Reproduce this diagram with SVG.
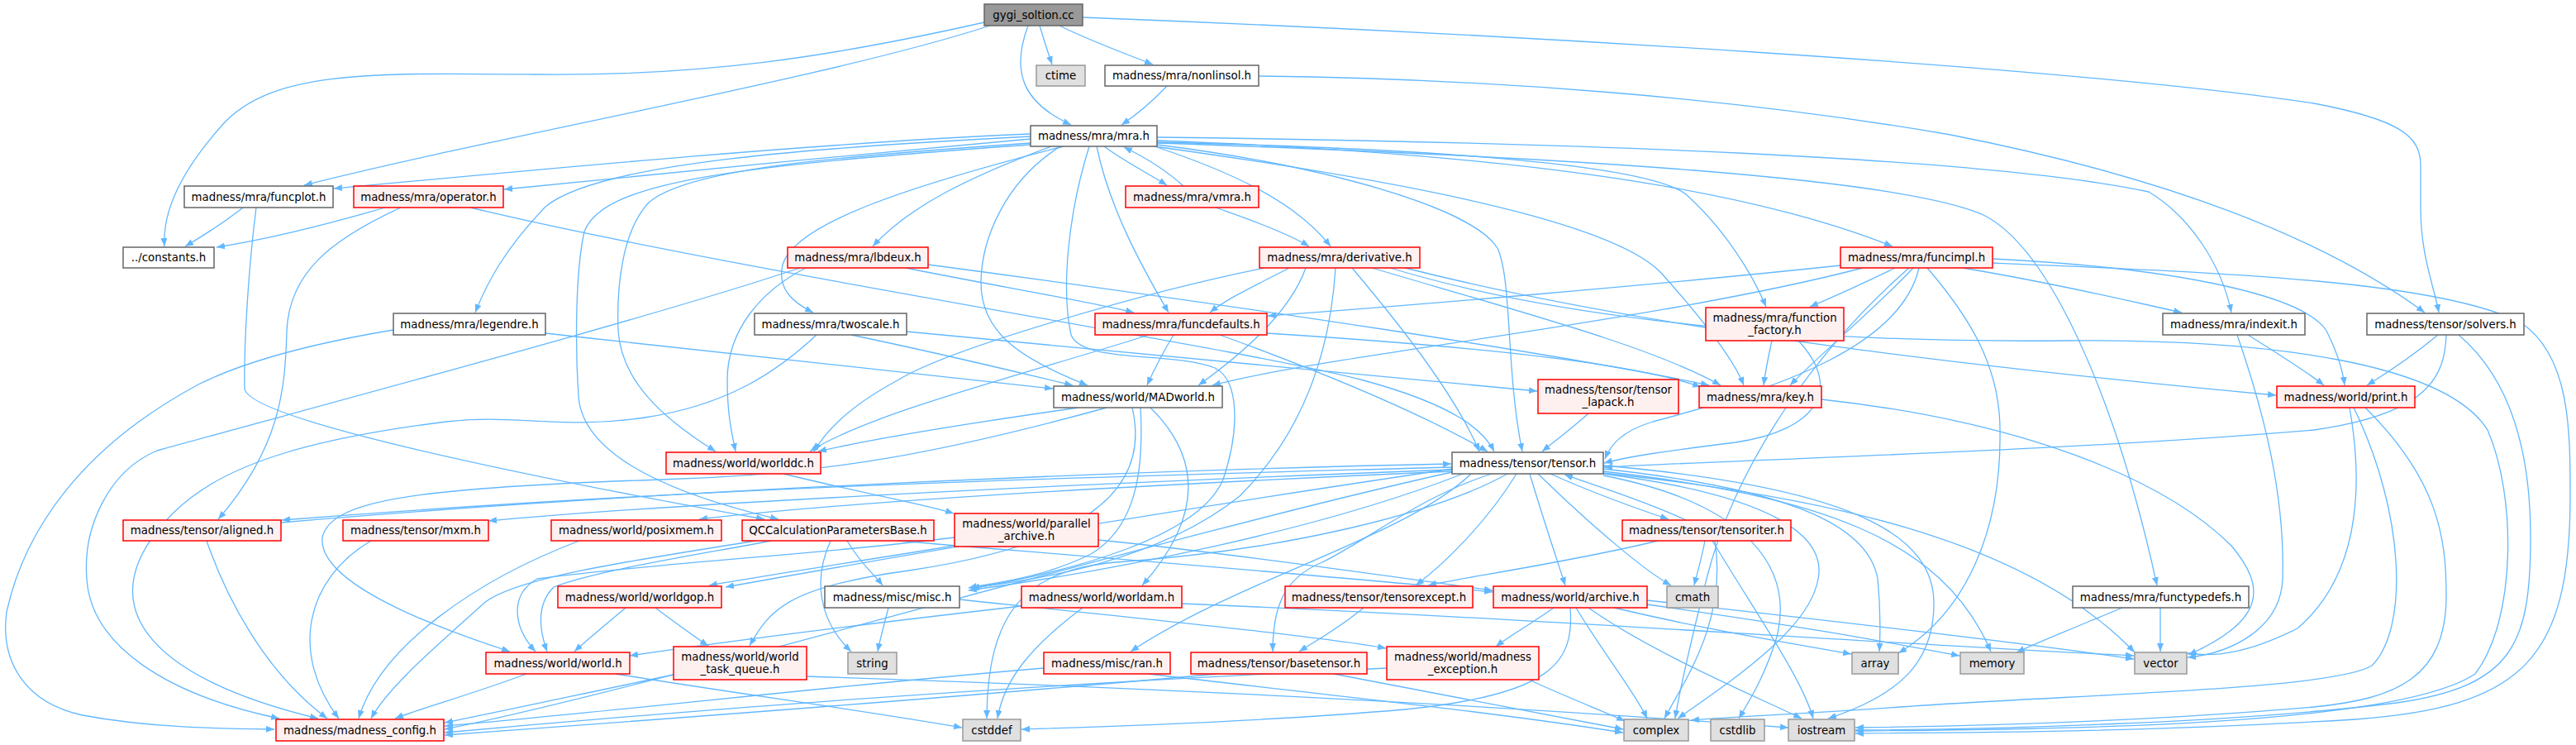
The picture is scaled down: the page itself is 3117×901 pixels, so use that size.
<svg xmlns="http://www.w3.org/2000/svg" width="3117" height="901" viewBox="0 0 3117 901">
<defs>
<marker id="a" markerUnits="userSpaceOnUse" markerWidth="11" markerHeight="9" refX="10" refY="4" orient="auto"><path d="M0,0 L10,4 L0,8 z" fill="#63b8ff"/></marker>
<style>
.e path{fill:none;stroke:#63b8ff;stroke-width:1.3;marker-end:url(#a)}
rect{stroke-width:1.5}
.w rect{fill:#fff;stroke:#666}
.r rect{fill:#fff0f0;stroke:#f00}
.g rect{fill:#e0e0e0;stroke:#999}
.root rect{fill:#999;stroke:#666}
text{font-family:"DejaVu Sans","Liberation Sans",sans-serif;font-size:13.33px;text-anchor:middle;fill:#000}
</style>
</defs>
<rect x="0" y="0" width="3117" height="901" fill="#fff" stroke="none"/>
<g id="edges" class="e">
<path d="M1191,27 C1000,70 850,92 650,90 C450,88 330,85 270,150 C225,200 196,250 199,298"/>
<path d="M1198,31 C1000,95 600,165 368,224"/>
<path d="M1258,31 C1263,48 1268,63 1273,78"/>
<path d="M1282,31 C1320,50 1365,66 1395,78"/>
<path d="M1244,31 C1222,90 1240,125 1296,151"/>
<path d="M1310,21 C1800,40 2500,80 2800,125 C2905,145 2929,165 2929,200 L2929,250 C2929,310 2945,345 2951,378"/>
<path d="M1412,104 C1395,122 1378,137 1357,151"/>
<path d="M1523,92 C1800,95 2100,118 2360,163 C2600,210 2800,280 2934,378"/>
<path d="M1247,162 C1000,172 650,205 404,228"/>
<path d="M1247,168 C1050,185 800,210 610,229"/>
<path d="M1247,165 C950,180 720,200 660,250 C612,300 590,340 575,378"/>
<path d="M1272,177 C1170,215 1100,250 1056,298"/>
<path d="M1287,177 C1100,225 962,270 947,320 C940,350 960,366 984,378"/>
<path d="M1336,177 C1360,195 1390,210 1412,224"/>
<path d="M1432,225 C1410,205 1385,190 1360,178"/>
<path d="M1400,178 C1480,205 1565,240 1610,298"/>
<path d="M1471,251 C1520,268 1560,283 1584,298"/>
<path d="M1327,177 C1342,250 1380,320 1414,378"/>
<path d="M1400,170 C1800,185 2100,222 2290,298"/>
<path d="M1400,172 C1750,180 1995,200 2040,235 C2085,275 2120,330 2137,371"/>
<path d="M1400,166 C1900,172 2400,190 2600,232 C2650,262 2688,320 2700,378"/>
<path d="M1396,177 C1650,212 1945,262 2010,330 C2068,395 2100,440 2110,466"/>
<path d="M1283,177 C1215,220 1188,290 1187,340 C1186,400 1230,432 1316,466"/>
<path d="M1247,173 C1000,190 830,205 785,245 C752,280 746,350 748,400 C752,460 800,505 866,546"/>
<path d="M1400,175 C1600,200 1780,250 1812,300 C1830,340 1822,450 1842,546"/>
<path d="M1247,175 C900,200 730,218 707,280 C696,330 696,420 700,480 C705,540 780,590 942,628"/>
<path d="M1318,177 C1292,260 1284,350 1296,405 C1310,440 1420,425 1470,445 C1500,460 1500,520 1480,580 C1450,650 1300,690 1175,712"/>
<path d="M1400,173 C1900,190 2300,215 2400,260 C2480,300 2560,480 2610,708"/>
<path d="M294,251 C270,270 246,285 224,298"/>
<path d="M310,251 C300,330 295,420 296,470 C300,505 600,570 925,628"/>
<path d="M466,251 C380,276 320,290 262,299"/>
<path d="M485,251 C400,290 350,330 347,400 C345,470 340,540 264,628"/>
<path d="M569,251 C900,330 1500,420 1650,460 C1760,490 1795,520 1808,546"/>
<path d="M660,403 C900,430 1150,455 1274,470"/>
<path d="M476,399 C380,415 300,435 240,465 C100,540 30,640 8,740 C0,800 30,850 100,865 C180,880 260,881 332,882"/>
<path d="M1096,324 C1200,345 1320,365 1372,378"/>
<path d="M1123,320 C1500,370 1900,430 2068,466"/>
<path d="M975,324 C920,352 880,400 880,460 C880,500 885,522 890,546"/>
<path d="M968,324 C800,380 500,460 190,545 C130,570 100,640 105,700 C110,780 200,840 338,869"/>
<path d="M988,405 C940,450 880,490 780,505 C680,520 620,500 540,510 C380,530 270,560 210,620 C100,730 180,820 385,869"/>
<path d="M1030,405 C1150,430 1230,450 1298,466"/>
<path d="M1097,401 C1400,430 1700,460 1860,473"/>
<path d="M1560,324 C1520,345 1486,360 1464,378"/>
<path d="M1530,324 C1400,350 1150,420 1086,460 C1030,490 1000,520 985,546"/>
<path d="M1580,324 C1560,380 1500,430 1450,466"/>
<path d="M1636,324 C1700,400 1762,480 1790,546"/>
<path d="M1660,324 C1850,380 2000,420 2082,466"/>
<path d="M1616,324 C1610,420 1580,520 1500,600 C1400,680 1250,702 1175,711"/>
<path d="M1700,324 C2000,400 2400,445 2754,478"/>
<path d="M1682,324 C1900,390 2200,415 2500,412 C2750,410 2960,440 3010,520 C3045,600 3045,750 2995,815 C2900,878 2500,882 2245,884"/>
<path d="M1420,405 C1405,430 1395,450 1388,466"/>
<path d="M1390,405 C1250,450 1050,500 980,546"/>
<path d="M1476,405 C1600,450 1720,500 1800,546"/>
<path d="M1533,403 C1800,420 1980,440 2058,468"/>
<path d="M2227,321 C2000,345 1700,370 1534,382"/>
<path d="M2293,324 C2260,340 2228,355 2190,371"/>
<path d="M2254,324 C2000,390 1600,430 1467,466"/>
<path d="M2315,324 C2262,380 2200,430 2166,466"/>
<path d="M2322,324 C2300,420 2150,470 2000,510 C1960,522 1948,540 1942,555"/>
<path d="M2411,313 C2650,325 2790,360 2815,400 C2830,430 2835,450 2837,466"/>
<path d="M2375,324 C2500,345 2580,365 2640,378"/>
<path d="M2332,324 C2380,380 2420,440 2420,520 C2422,640 2380,740 2297,790"/>
<path d="M2411,318 C2700,330 2950,340 3050,390 C3110,430 3110,520 3110,600 C3110,800 3050,855 2850,870 C2600,885 2400,886 2245,887"/>
<path d="M2310,324 C2200,420 2100,560 2065,700 C2045,780 2033,830 2027,869"/>
<path d="M2144,412 C2140,430 2136,450 2134,466"/>
<path d="M2176,412 C2230,470 2200,520 2100,535 C2020,545 1970,552 1941,560"/>
<path d="M2720,405 C2760,430 2792,450 2812,466"/>
<path d="M2707,405 C2740,500 2765,600 2762,700 C2760,760 2700,790 2647,795"/>
<path d="M2950,405 C2920,430 2890,450 2864,466"/>
<path d="M2960,405 C2958,455 2940,500 2800,520 C2500,545 2200,552 1941,565"/>
<path d="M2975,405 C3040,460 3062,550 3062,650 C3062,780 3040,830 2900,850 C2700,875 2400,882 2245,883"/>
<path d="M2843,493 C2862,600 2850,700 2780,760 C2720,790 2680,795 2647,790"/>
<path d="M2848,493 C2910,620 2915,760 2870,805 C2820,835 2500,840 2300,855 C2150,865 2080,868 2046,871"/>
<path d="M2862,493 C2950,580 2960,650 2960,720 C2960,820 2900,845 2800,855 C2600,872 2400,878 2245,880"/>
<path d="M2204,483 C2450,510 2620,580 2700,660 C2742,710 2742,750 2648,792"/>
<path d="M1922,500 C1902,518 1882,533 1866,546"/>
<path d="M1305,493 C1150,515 1050,532 990,546"/>
<path d="M1339,493 C1150,545 1000,575 800,580 C500,590 400,605 390,650 C385,700 500,750 617,788"/>
<path d="M1392,493 C1450,550 1460,620 1382,708"/>
<path d="M1380,493 C1385,580 1370,640 1320,670 C1260,700 1200,705 1172,711"/>
<path d="M1370,493 C1395,600 1300,660 1100,690 C950,710 930,740 907,781"/>
<path d="M948,573 C1050,598 1120,610 1154,621"/>
<path d="M1025,654 C1040,680 1058,695 1068,708"/>
<path d="M1005,654 C984,700 990,750 1030,788"/>
<path d="M1086,654 C1400,680 1650,700 1806,716"/>
<path d="M933,654 C850,670 720,690 670,710 C650,730 652,760 662,788"/>
<path d="M915,654 C750,680 620,700 585,730 C530,780 470,830 449,869"/>
<path d="M1329,653 C1500,670 1700,700 1806,714"/>
<path d="M1155,660 C1000,685 900,700 858,708"/>
<path d="M1155,650 C1000,670 800,680 650,700 C615,720 622,760 648,788"/>
<path d="M1757,565 C1400,575 900,585 341,629"/>
<path d="M340,632 C800,592 1400,568 1756,561"/>
<path d="M1757,568 C1300,585 800,610 591,630"/>
<path d="M1757,570 C1300,590 1000,610 846,628"/>
<path d="M1835,573 C1800,630 1750,680 1713,708"/>
<path d="M1851,573 C1868,630 1885,680 1894,708"/>
<path d="M1861,573 C1930,640 1990,690 2022,708"/>
<path d="M1876,573 C1925,595 1980,615 2019,628"/>
<path d="M2040,629 C2000,610 1940,590 1893,574"/>
<path d="M1940,567 C2150,590 2260,630 2272,700 C2276,740 2275,770 2274,788"/>
<path d="M1940,570 C2200,600 2350,650 2409,788"/>
<path d="M1940,572 C2200,600 2450,650 2583,789"/>
<path d="M1940,573 C2150,600 2210,650 2200,700 C2190,760 2100,820 2030,869"/>
<path d="M1940,563 C2250,590 2340,650 2340,730 C2340,800 2300,840 2212,869"/>
<path d="M1940,575 C2120,610 2170,690 2150,770 C2135,820 2115,850 2104,869"/>
<path d="M1805,573 C1720,600 1660,650 1600,680 C1550,700 1540,740 1540,788"/>
<path d="M1780,573 C1700,650 1500,700 1368,788"/>
<path d="M1770,573 C1600,640 1350,690 1172,714"/>
<path d="M1824,573 C1740,620 1560,665 1350,680 C1240,690 1195,740 1194,869"/>
<path d="M1757,571 C1400,650 800,830 538,882"/>
<path d="M1757,567 C1400,620 1100,670 878,710"/>
<path d="M2006,654 C1900,680 1760,700 1728,708"/>
<path d="M2063,654 C2058,680 2053,695 2050,708"/>
<path d="M2075,654 C2090,750 2040,820 2014,869"/>
<path d="M2072,654 C2130,750 2180,820 2194,869"/>
<path d="M1650,735 C1620,760 1592,775 1572,788"/>
<path d="M1161,725 C1400,750 1600,770 1677,784"/>
<path d="M1880,735 C1852,755 1825,770 1810,782"/>
<path d="M1907,735 C1940,790 1980,840 1993,869"/>
<path d="M1922,735 C2000,790 2120,840 2180,869"/>
<path d="M1900,735 C1905,800 1880,840 1700,858 C1500,875 1300,880 1236,882"/>
<path d="M1953,735 C2080,765 2180,780 2240,791"/>
<path d="M1993,731 C2200,760 2300,780 2371,793"/>
<path d="M1993,726 C2300,760 2500,785 2582,797"/>
<path d="M1850,822 C1900,845 1940,860 1966,872"/>
<path d="M1678,808 C1200,830 800,862 538,886"/>
<path d="M1473,815 C1200,840 800,870 538,889"/>
<path d="M1614,815 C1750,840 1880,865 1964,882"/>
<path d="M1263,808 C1000,830 750,860 538,878"/>
<path d="M1390,815 C1600,840 1800,860 1964,886"/>
<path d="M1075,735 C1070,755 1065,772 1062,788"/>
<path d="M1236,733 C1000,760 850,780 762,793"/>
<path d="M1310,735 C1250,780 1215,820 1207,869"/>
<path d="M1430,730 C1900,750 2300,780 2582,793"/>
<path d="M637,815 C570,840 505,858 478,869"/>
<path d="M745,815 C900,840 1050,860 1164,880"/>
<path d="M757,735 C730,758 710,774 695,788"/>
<path d="M793,735 C820,755 840,770 857,781"/>
<path d="M815,816 C700,840 600,862 538,874"/>
<path d="M976,818 C1500,835 1900,860 2164,880"/>
<path d="M250,654 C280,740 330,820 396,869"/>
<path d="M449,654 C370,700 350,790 410,869"/>
<path d="M701,654 C580,700 460,780 434,869"/>
<path d="M2568,735 C2520,755 2470,775 2440,789"/>
<path d="M2614,735 L2614,788"/>
</g>
<g id="n_gygi" class="root"><rect x="1191" y="5" width="119" height="26"/><text x="1250.5" y="22.5">gygi_soltion.cc</text></g>
<g id="n_ctime" class="g"><rect x="1254" y="79" width="59" height="25"/><text x="1283.5" y="96">ctime</text></g>
<g id="n_nonlinsol" class="w"><rect x="1337" y="79" width="186" height="25"/><text x="1430" y="96">madness/mra/nonlinsol.h</text></g>
<g id="n_mra" class="w"><rect x="1247" y="152" width="153" height="25"/><text x="1323.5" y="169">madness/mra/mra.h</text></g>
<g id="n_funcplot" class="w"><rect x="223" y="225" width="180" height="26"/><text x="313" y="242.5">madness/mra/funcplot.h</text></g>
<g id="n_operator" class="r"><rect x="428" y="225" width="181" height="26"/><text x="518.5" y="242.5">madness/mra/operator.h</text></g>
<g id="n_vmra" class="r"><rect x="1362" y="225" width="161" height="26"/><text x="1442.5" y="242.5">madness/mra/vmra.h</text></g>
<g id="n_constants" class="w"><rect x="149" y="299" width="110" height="25"/><text x="204" y="316">../constants.h</text></g>
<g id="n_lbdeux" class="r"><rect x="953" y="299" width="170" height="25"/><text x="1038" y="316">madness/mra/lbdeux.h</text></g>
<g id="n_derivative" class="r"><rect x="1524" y="299" width="194" height="25"/><text x="1621" y="316">madness/mra/derivative.h</text></g>
<g id="n_funcimpl" class="r"><rect x="2227" y="299" width="184" height="25"/><text x="2319" y="316">madness/mra/funcimpl.h</text></g>
<g id="n_legendre" class="w"><rect x="476" y="379" width="184" height="26"/><text x="568" y="396.5">madness/mra/legendre.h</text></g>
<g id="n_twoscale" class="w"><rect x="913" y="379" width="184" height="26"/><text x="1005" y="396.5">madness/mra/twoscale.h</text></g>
<g id="n_funcdefaults" class="r"><rect x="1325" y="379" width="208" height="26"/><text x="1429" y="396.5">madness/mra/funcdefaults.h</text></g>
<g id="n_function_factory" class="r"><rect x="2064" y="372" width="167" height="40"/><text x="2147.5" y="389">madness/mra/function</text><text x="2147.5" y="404">_factory.h</text></g>
<g id="n_indexit" class="w"><rect x="2617" y="379" width="172" height="26"/><text x="2703" y="396.5">madness/mra/indexit.h</text></g>
<g id="n_solvers" class="w"><rect x="2864" y="379" width="190" height="26"/><text x="2959" y="396.5">madness/tensor/solvers.h</text></g>
<g id="n_tensor_lapack" class="r"><rect x="1861" y="459" width="170" height="41"/><text x="1946" y="476">madness/tensor/tensor</text><text x="1946" y="491">_lapack.h</text></g>
<g id="n_MADworld" class="w"><rect x="1275" y="467" width="204" height="26"/><text x="1377" y="484.5">madness/world/MADworld.h</text></g>
<g id="n_key" class="r"><rect x="2056" y="467" width="148" height="26"/><text x="2130" y="484.5">madness/mra/key.h</text></g>
<g id="n_print" class="r"><rect x="2755" y="467" width="167" height="26"/><text x="2838.5" y="484.5">madness/world/print.h</text></g>
<g id="n_worlddc" class="r"><rect x="806" y="547" width="187" height="26"/><text x="899.5" y="564.5">madness/world/worlddc.h</text></g>
<g id="n_tensor" class="w"><rect x="1757" y="547" width="183" height="26"/><text x="1848.5" y="564.5">madness/tensor/tensor.h</text></g>
<g id="n_aligned" class="r"><rect x="149" y="629" width="191" height="25"/><text x="244.5" y="646">madness/tensor/aligned.h</text></g>
<g id="n_mxm" class="r"><rect x="415" y="629" width="176" height="25"/><text x="503" y="646">madness/tensor/mxm.h</text></g>
<g id="n_posixmem" class="r"><rect x="667" y="629" width="206" height="25"/><text x="770" y="646">madness/world/posixmem.h</text></g>
<g id="n_QCCalc" class="r"><rect x="898" y="629" width="232" height="25"/><text x="1014" y="646">QCCalculationParametersBase.h</text></g>
<g id="n_parallel_archive" class="r"><rect x="1155" y="621" width="174" height="40"/><text x="1242" y="638">madness/world/parallel</text><text x="1242" y="653">_archive.h</text></g>
<g id="n_tensoriter" class="r"><rect x="1963" y="629" width="204" height="25"/><text x="2065" y="646">madness/tensor/tensoriter.h</text></g>
<g id="n_worldgop" class="r"><rect x="675" y="709" width="198" height="26"/><text x="774" y="726.5">madness/world/worldgop.h</text></g>
<g id="n_misc" class="w"><rect x="998" y="709" width="163" height="26"/><text x="1079.5" y="726.5">madness/misc/misc.h</text></g>
<g id="n_worldam" class="r"><rect x="1236" y="709" width="194" height="26"/><text x="1333" y="726.5">madness/world/worldam.h</text></g>
<g id="n_tensorexcept" class="r"><rect x="1555" y="709" width="227" height="26"/><text x="1668.5" y="726.5">madness/tensor/tensorexcept.h</text></g>
<g id="n_archive" class="r"><rect x="1807" y="709" width="186" height="26"/><text x="1900" y="726.5">madness/world/archive.h</text></g>
<g id="n_cmath" class="g"><rect x="2017" y="709" width="62" height="26"/><text x="2048" y="726.5">cmath</text></g>
<g id="n_functypedefs" class="w"><rect x="2508" y="709" width="213" height="26"/><text x="2614.5" y="726.5">madness/mra/functypedefs.h</text></g>
<g id="n_world" class="r"><rect x="588" y="789" width="174" height="26"/><text x="675" y="806.5">madness/world/world.h</text></g>
<g id="n_world_task_queue" class="r"><rect x="815" y="782" width="161" height="40"/><text x="895.5" y="799">madness/world/world</text><text x="895.5" y="814">_task_queue.h</text></g>
<g id="n_string" class="g"><rect x="1026" y="789" width="59" height="26"/><text x="1055.5" y="806.5">string</text></g>
<g id="n_ran" class="r"><rect x="1263" y="789" width="153" height="26"/><text x="1339.5" y="806.5">madness/misc/ran.h</text></g>
<g id="n_basetensor" class="r"><rect x="1441" y="789" width="213" height="26"/><text x="1547.5" y="806.5">madness/tensor/basetensor.h</text></g>
<g id="n_madness_exception" class="r"><rect x="1678" y="782" width="184" height="40"/><text x="1770" y="799">madness/world/madness</text><text x="1770" y="814">_exception.h</text></g>
<g id="n_array" class="g"><rect x="2241" y="789" width="56" height="26"/><text x="2269" y="806.5">array</text></g>
<g id="n_memory" class="g"><rect x="2372" y="789" width="77" height="26"/><text x="2410.5" y="806.5">memory</text></g>
<g id="n_vector" class="g"><rect x="2583" y="789" width="63" height="26"/><text x="2614.5" y="806.5">vector</text></g>
<g id="n_madness_config" class="r"><rect x="334" y="870" width="203" height="26"/><text x="435.5" y="887.5">madness/madness_config.h</text></g>
<g id="n_cstddef" class="g"><rect x="1165" y="870" width="70" height="26"/><text x="1200" y="887.5">cstddef</text></g>
<g id="n_complex" class="g"><rect x="1965" y="870" width="78" height="26"/><text x="2004" y="887.5">complex</text></g>
<g id="n_cstdlib" class="g"><rect x="2070" y="870" width="65" height="26"/><text x="2102.5" y="887.5">cstdlib</text></g>
<g id="n_iostream" class="g"><rect x="2164" y="870" width="80" height="26"/><text x="2204" y="887.5">iostream</text></g>
</svg>
